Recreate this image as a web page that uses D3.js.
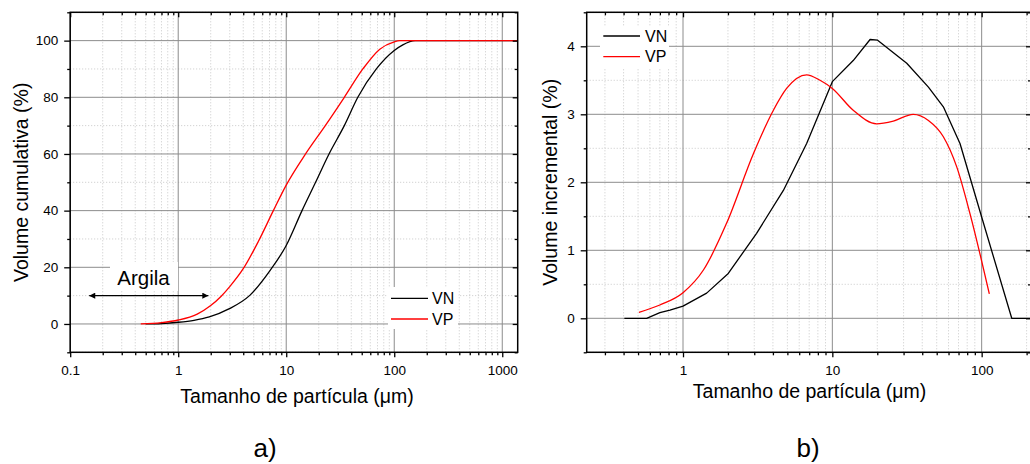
<!DOCTYPE html>
<html><head><meta charset="utf-8">
<script src="https://cdn.jsdelivr.net/npm/d3@7"></script>
<style>
html,body{margin:0;padding:0;background:#fff;}
svg{display:block;font-family:"Liberation Sans",Arial,sans-serif;}
</style></head>
<body><svg id="c" width="1030" height="464"></svg>
<script>
// ---- Data ----
// Panel a) cumulative volume
const vnCumX = [0.5, 0.7, 1, 1.4, 1.94, 2.98, 4.6, 7.1, 10, 14, 18.7, 24.9, 34.5, 46, 68.3, 100, 120, 156, 1390];
const vnCumY = [0, 0.15, 0.6, 1.3, 2.5, 5.4, 10.1, 18.9, 27.7, 40, 50, 60, 70, 80, 90, 96.5, 98.5, 100, 100];
const vpCumX = [0.45, 0.7, 1.0, 1.5, 2, 2.5, 3, 4, 5.5, 7.6, 10, 15.1, 23, 34.5, 51.2, 73.5, 100, 112, 1390];
const vpCumY = [0, 0.5, 1.4, 3.5, 6.5, 9.8, 13.2, 19.5, 29, 40, 49, 60, 70, 80, 90, 97, 99.6, 100, 100];
// Panel b) incremental volume
const vnIncX = [0.405, 0.571, 0.70, 0.818, 1.0, 1.44, 2.01, 3.11, 4.7, 6.73, 10, 13.8, 17.9, 20.1, 31.5, 44, 55.4, 71.6, 100, 159, 214];
const vnIncY = [0, 0, 0.083, 0.12, 0.18, 0.37, 0.66, 1.25, 1.88, 2.57, 3.48, 3.79, 4.1, 4.09, 3.75, 3.4, 3.11, 2.57, 1.49, 0, 0];
const vpIncX = [0.507, 0.70, 1.0, 1.37, 1.96, 2.96, 4.03, 4.94, 6.73, 8.27, 10, 13.8, 19.8, 25.6, 34.8, 44, 55.4, 68, 83.5, 112.5];
const vpIncY = [0.088, 0.196, 0.377, 0.71, 1.40, 2.42, 3.06, 3.38, 3.58, 3.50, 3.38, 3.06, 2.86, 2.90, 3.0, 2.91, 2.67, 2.23, 1.54, 0.36];
// Tick labels
const xTicksA = [0.1, 1, 10, 100, 1000];
const xTickLabelsA = ["0.1", "1", "10", "100", "1000"];
const yTicksA = [0, 20, 40, 60, 80, 100];
const yTickLabelsA = ["0", "20", "40", "60", "80", "100"];
const yMinorA = [-10, 10, 30, 50, 70, 90, 110];
const xTicksB = [1, 10, 100];
const xTickLabelsB = ["1", "10", "100"];
const yTicksB = [0, 1, 2, 3, 4];
const yTickLabelsB = ["0", "1", "2", "3", "4"];
const yMinorB = [-0.5, 0.5, 1.5, 2.5, 3.5, 4.5];
const seriesNames = ["VN", "VP"];
const seriesColors = ["#000000", "#ff0000"];
const xTitle = "Tamanho de partícula (\u03bcm)";
const yTitleA = "Volume cumulativa (%)";
const yTitleB = "Volume incremental (%)";
const clayLabel = "Argila";
const clayRange = [0.15, 1.9];
const clayLevel = 10;

const svg = d3.select("#c");
const defs = svg.append("defs");
defs.append("marker").attr("id","arr").attr("viewBox","0 0 10 10").attr("refX",10).attr("refY",5)
  .attr("markerWidth",9).attr("markerHeight",6).attr("markerUnits","userSpaceOnUse").attr("orient","auto-start-reverse")
  .append("path").attr("d","M0,0 L10,5 L0,10 Z").attr("fill","#000");

function minorLog(domain){
  const out=[];
  const lo=Math.floor(Math.log10(domain[0])), hi=Math.ceil(Math.log10(domain[1]));
  for(let k=lo;k<=hi;k++) for(let m=2;m<=9;m++){const v=m*Math.pow(10,k); if(v>=domain[0]&&v<=domain[1]) out.push(v);}
  return out;
}

function panel(o){
  const g = svg.append("g");
  const x = d3.scaleLog().domain(o.xDomain).range([o.left,o.right]);
  const y = d3.scaleLinear().domain(o.yDomain).range([o.bottom,o.top]);
  const xMinor = minorLog(o.xDomain);
  const xMajor = o.xTicks;
  // grid minor
  g.append("g").selectAll("line").data(xMinor).join("line")
    .attr("x1",d=>x(d)).attr("x2",d=>x(d)).attr("y1",o.top).attr("y2",o.bottom)
    .attr("stroke","#c8c8c8").attr("stroke-width",1).attr("stroke-dasharray","1,2");
  g.append("g").selectAll("line").data(o.yMinor).join("line")
    .attr("x1",o.left).attr("x2",o.right).attr("y1",d=>y(d)).attr("y2",d=>y(d))
    .attr("stroke","#c8c8c8").attr("stroke-width",1).attr("stroke-dasharray","1,2");
  // grid major
  g.append("g").selectAll("line").data(xMajor).join("line")
    .attr("x1",d=>x(d)).attr("x2",d=>x(d)).attr("y1",o.top).attr("y2",o.bottom)
    .attr("stroke","#8c8c8c").attr("stroke-width",1);
  g.append("g").selectAll("line").data(o.yTicks).join("line")
    .attr("x1",o.left).attr("x2",o.right).attr("y1",d=>y(d)).attr("y2",d=>y(d))
    .attr("stroke","#8c8c8c").attr("stroke-width",1);
  if(o.extra) o.extra(g,x,y);
  // legend box
  const lg = g.append("g");
  lg.append("rect").attr("x",o.legend.x0).attr("y",o.legend.y0).attr("width",o.legend.w).attr("height",o.legend.h).attr("fill","#fff");
  // lines
  const line = d3.line().x(d=>x(d[0])).y(d=>y(d[1]));
  o.series.forEach((s,i)=>{
    g.append("path").datum(d3.zip(s.x,s.y)).attr("fill","none").attr("stroke",seriesColors[i])
      .attr("stroke-width",1.3).attr("d",line.curve(s.curve)).attr("stroke-linejoin","round");
  });
  seriesNames.forEach((n,i)=>{
    const yy=o.legend.ly[i];
    lg.append("line").attr("x1",o.legend.lx0).attr("x2",o.legend.lx1).attr("y1",yy).attr("y2",yy)
      .attr("stroke",seriesColors[i]).attr("stroke-width",1.3);
    lg.append("text").attr("x",o.legend.tx).attr("y",yy).attr("dy","0.36em").attr("font-size",o.legend.fs).attr("fill","#000").text(n);
  });
  // axes
  const axB = d3.axisBottom(x).tickValues(xMajor).tickFormat((d,i)=>o.xLabels[i]).tickSizeInner(5).tickSizeOuter(0).tickPadding(8);
  g.append("g").attr("transform",`translate(0,${o.bottom})`).call(axB);
  const axBm = d3.axisBottom(x).tickValues(xMinor).tickFormat("").tickSizeInner(3).tickSizeOuter(0);
  g.append("g").attr("transform",`translate(0,${o.bottom})`).call(axBm);
  const axL = d3.axisLeft(y).tickValues(o.yTicks).tickFormat((d,i)=>o.yLabels[i]).tickSizeInner(6).tickSizeOuter(0).tickPadding(6);
  g.append("g").attr("transform",`translate(${o.left},0)`).call(axL);
  g.append("g").attr("transform",`translate(${o.left},0)`).call(d3.axisLeft(y).tickValues(o.yMinor).tickFormat("").tickSizeInner(3).tickSizeOuter(0));
  // top & right inward ticks
  g.append("g").attr("transform",`translate(0,${o.top})`).call(d3.axisBottom(x).tickValues(xMajor).tickFormat("").tickSizeInner(5).tickSizeOuter(0));
  g.append("g").attr("transform",`translate(0,${o.top})`).call(d3.axisBottom(x).tickValues(xMinor).tickFormat("").tickSizeInner(3).tickSizeOuter(0));
  g.append("g").attr("transform",`translate(${o.right},0)`).call(d3.axisLeft(y).tickValues(o.yTicks).tickFormat("").tickSizeInner(5).tickSizeOuter(0));
  g.append("g").attr("transform",`translate(${o.right},0)`).call(d3.axisLeft(y).tickValues(o.yMinor).tickFormat("").tickSizeInner(3).tickSizeOuter(0));
  g.selectAll(".domain").remove();
  g.selectAll(".tick line").attr("stroke","#000").attr("stroke-width",1.3);
  g.selectAll(".tick text").attr("font-size",13.5).attr("fill","#000").attr("font-family","Liberation Sans, Arial, sans-serif");
  // frame
  g.append("rect").attr("x",o.left).attr("y",o.top).attr("width",o.right-o.left).attr("height",o.bottom-o.top)
    .attr("fill","none").attr("stroke","#000").attr("stroke-width",1.5);
  // titles
  g.append("text").attr("x",o.xtX).attr("y",o.xtY).attr("text-anchor","middle").attr("font-size",19.5).text(xTitle);
  g.append("text").attr("transform",`translate(${o.ytX},${(o.top+o.bottom)/2}) rotate(-90)`).attr("text-anchor","middle")
    .attr("dy","0.36em").attr("font-size",19.5).text(o.yTitle);
  g.append("text").attr("x",o.capX).attr("y",457).attr("text-anchor","middle").attr("font-size",26).text(o.cap);
}

panel({
  left:70.2, right:517.7, top:12.3, bottom:352.3,
  xDomain:[0.1,1390], yDomain:[-10,110],
  xTicks:xTicksA, xLabels:xTickLabelsA, yTicks:yTicksA, yLabels:yTickLabelsA, yMinor:yMinorA,
  series:[{x:vnCumX,y:vnCumY,curve:d3.curveMonotoneX},{x:vpCumX,y:vpCumY,curve:d3.curveMonotoneX}],
  legend:{x0:388,y0:287,w:70,h:42,lx0:391,lx1:428,ly:[298.3,319],tx:432,fs:16},
  xtX:297, xtY:403, ytX:21, yTitle:yTitleA, capX:265, cap:"a)",
  extra:(g,x,y)=>{
    g.append("rect").attr("x",110).attr("y",262).attr("width",68).attr("height",29).attr("fill","#fff");
    g.append("text").attr("x",143.5).attr("y",278).attr("dy","0.36em").attr("text-anchor","middle").attr("font-size",20.5).text(clayLabel);
    g.append("line").attr("x1",x(clayRange[0])).attr("x2",x(clayRange[1])).attr("y1",y(clayLevel)).attr("y2",y(clayLevel))
      .attr("stroke","#000").attr("stroke-width",1.2).attr("marker-start","url(#arr)").attr("marker-end","url(#arr)");
  }
});

panel({
  left:586.7, right:1031, top:12.3, bottom:352.3,
  xDomain:[0.2265,214], yDomain:[-0.5,4.5],
  xTicks:xTicksB, xLabels:xTickLabelsB, yTicks:yTicksB, yLabels:yTickLabelsB, yMinor:yMinorB,
  series:[{x:vnIncX,y:vnIncY,curve:d3.curveLinear},{x:vpIncX,y:vpIncY,curve:d3.curveMonotoneX}],
  legend:{x0:600,y0:26,w:69,h:42,lx0:603.3,lx1:640,ly:[36,56.7],tx:645,fs:16},
  xtX:809.5, xtY:397.5, ytX:550, yTitle:yTitleB, capX:808, cap:"b)"
});
</script></body></html>
